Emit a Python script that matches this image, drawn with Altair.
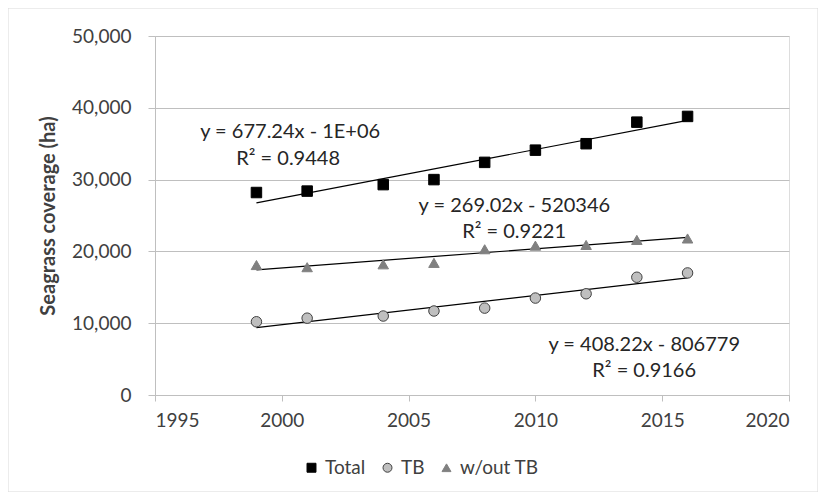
import altair as alt
import pandas as pd

# ---- data ----
years = [1999, 2001, 2004, 2006, 2008, 2010, 2012, 2014, 2016]
total = [28200, 28400, 29300, 30000, 32400, 34100, 35000, 38000, 38800]
tb = [10200, 10700, 11000, 11700, 12100, 13500, 14100, 16400, 17000]
wout_tb = [18100, 17800, 18200, 18400, 20300, 20800, 20900, 21600, 21800]
series_names = ["Total", "TB", "w/out TB"]

x_ticks = [1995, 2000, 2005, 2010, 2015, 2020]
y_ticks = [0, 10000, 20000, 30000, 40000, 50000]

eq_labels = ["y = 677.24x - 1E+06", "R² = 0.9448",
             "y = 269.02x - 520346", "R² = 0.9221",
             "y = 408.22x - 806779", "R² = 0.9166"]
eq_year = [2000.33, 2000.25, 2009.17, 2009.16, 2014.29, 2014.29]
eq_value = [36600, 32800, 26300, 22700, 7000, 3300]

# ---- tables ----
rows = []
for name, vals in zip(series_names, [total, tb, wout_tb]):
    for yr, v in zip(years, vals):
        rows.append({"series": name, "year": yr, "value": v})
df = pd.DataFrame(rows)
ann = pd.DataFrame({"label": eq_labels, "year": eq_year, "value": eq_value})

FONT = "Lato"
GRID = "#bfbfbf"
TEXT = "#404040"

x_scale = alt.Scale(domain=[1995, 2020], nice=False, zero=False)
y_scale = alt.Scale(domain=[0, 50000], nice=False)

x_enc = alt.X("year:Q", scale=x_scale,
              axis=alt.Axis(title=None, values=x_ticks, format="d", grid=False,
                            tickSize=6, labelPadding=10, domainColor=GRID,
                            tickColor=GRID, labelFontSize=19, labelColor=TEXT,
                            labelFont=FONT))
y_enc = alt.Y("value:Q", scale=y_scale,
              axis=alt.Axis(title="Seagrass coverage (ha)", values=y_ticks,
                            format=",d", grid=True, gridColor=GRID,
                            tickSize=7, labelPadding=17, domainColor=GRID,
                            tickColor=GRID, labelFontSize=19, labelColor=TEXT,
                            labelFont=FONT, titleX=-97, titleY=179.5,
                            titleFont=FONT, titleFontSize=20,
                            titleFontWeight="bold", titleColor=TEXT))

leg = alt.Legend(title=None, orient="none", legendX=147, legendY=422,
                 direction="horizontal", labelFont=FONT, labelFontSize=19,
                 labelColor=TEXT, symbolSize=80, columnPadding=12,
                 labelOffset=4, symbolStrokeWidth=1)

points = alt.Chart(df).mark_point(filled=False, opacity=1, strokeWidth=1, size=110).encode(
    x=x_enc,
    y=y_enc,
    shape=alt.Shape("series:N", scale=alt.Scale(domain=series_names,
                    range=["square", "circle", "triangle-up"]), legend=leg),
    fill=alt.Fill("series:N", scale=alt.Scale(domain=series_names,
                  range=["#000000", "#bfbfbf", "#808080"]), legend=leg),
    stroke=alt.Stroke("series:N", scale=alt.Scale(domain=series_names,
                      range=["#000000", "#404040", "#808080"]), legend=leg),
)

trend = alt.Chart(df).transform_regression(
    "year", "value", groupby=["series"]
).mark_line(color="#000000", strokeWidth=1.2).encode(
    x=alt.X("year:Q", scale=x_scale),
    y=alt.Y("value:Q", scale=y_scale),
    detail="series:N",
)

labels = alt.Chart(ann).mark_text(font=FONT, fontSize=20, color="#262626",
                                  align="center", baseline="middle").encode(
    x=alt.X("year:Q", scale=x_scale),
    y=alt.Y("value:Q", scale=y_scale),
    text="label:N",
)

frame = alt.Chart(pd.DataFrame({"k": [0]})).mark_rect(
    fill=None, stroke="#d9d9d9", strokeWidth=1
).encode(x=alt.value(-147), x2=alt.value(663), y=alt.value(-28), y2=alt.value(456))

chart = alt.layer(frame, trend, points, labels).properties(
    width=634, height=359,
    autosize=alt.AutoSizeParams(type="none"),
    padding={"left": 147, "top": 28, "right": 29, "bottom": 97},
).configure_view(stroke=None).configure(background="#ffffff")

chart.save("out.html", embed_options={"renderer": "svg", "actions": False})
